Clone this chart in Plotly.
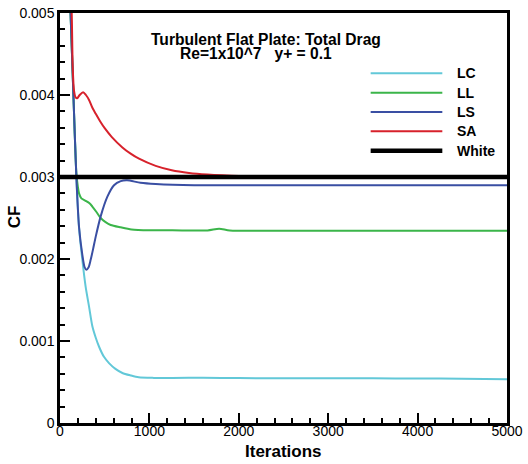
import plotly.graph_objects as go

# Convergence history of skin-friction coefficient (total drag) per model
lc_iter = [80, 118, 150, 183, 213, 250, 287, 325, 362, 400, 437, 490, 548, 620, 698, 790, 880,
           1050, 1257, 1600, 2000, 2500, 3000, 3500, 4000, 4500, 5000]
lc_cf = [0.0060, 0.0050, 0.0040, 0.0030, 0.00238, 0.00199, 0.00166, 0.00142, 0.00118, 0.00104,
         0.00093, 0.00081, 0.00073, 0.00066, 0.00061, 0.00058, 0.000557,
         0.000550, 0.000550, 0.000552, 0.000548, 0.000546, 0.000545, 0.000545, 0.000543, 0.000540, 0.000535]

ll_iter = [80, 118, 150, 183, 200, 213, 239, 287, 330, 362, 410, 455, 510, 567, 679, 800, 1000,
           1257, 1650, 1780, 1900, 2500, 3000, 4000, 5000]
ll_cf = [0.0060, 0.0050, 0.0040, 0.00305, 0.00288, 0.00280, 0.00274, 0.00271, 0.00268, 0.00264,
         0.00257, 0.00250, 0.00245, 0.002415, 0.002386, 0.00236, 0.00235,
         0.00235, 0.002348, 0.00237, 0.002348, 0.002345, 0.002345, 0.002345, 0.002345]

ls_iter = [80, 118, 150, 183, 213, 250, 275, 295, 320, 343, 370, 399, 455, 530, 604, 679, 750,
           900, 1070, 1500, 2189, 3000, 4000, 5000]
ls_cf = [0.0060, 0.0050, 0.0040, 0.0030, 0.00239, 0.00205, 0.00190, 0.00187, 0.00190, 0.00199,
         0.00212, 0.00227, 0.00252, 0.00276, 0.00290, 0.00295, 0.00296,
         0.00293, 0.002915, 0.00290, 0.00290, 0.00290, 0.00290, 0.00290]

sa_iter = [100, 131, 142, 157, 175, 192, 220, 258, 290, 325, 360, 400, 450, 500, 580, 698, 790,
           884, 1070, 1250, 1443, 1650, 1816, 2000, 2500, 3000, 4000, 5000]
sa_cf = [0.0058, 0.0050, 0.00435, 0.00405, 0.00397, 0.00396, 0.00400, 0.004035, 0.00400, 0.00394,
         0.00385, 0.00377, 0.003677, 0.003595, 0.003487, 0.003361, 0.003285,
         0.003223, 0.003135, 0.003082, 0.00305, 0.00303, 0.00302, 0.003013, 0.003005, 0.003002,
         0.00300, 0.00300]

white_iter = [0, 5000]
white_cf = [0.003, 0.003]

names = ["LC", "LL", "LS", "SA", "White"]
colors = ["#62c8d8", "#3bb54a", "#3a4fa3", "#d7212b", "#000000"]
widths = [2, 2, 2, 2, 4.5]

x_ticks = [0, 1000, 2000, 3000, 4000, 5000]
x_labels = ["0", "1000", "2000", "3000", "4000", "5000"]
y_ticks = [0, 0.001, 0.002, 0.003, 0.004, 0.005]
y_labels = ["0", "0.001", "0.002", "0.003", "0.004", "0.005"]

FONT = "Liberation Sans, Arial, Helvetica, sans-serif"

fig = go.Figure()
series = [(lc_iter, lc_cf), (ll_iter, ll_cf), (ls_iter, ls_cf), (sa_iter, sa_cf), (white_iter, white_cf)]
for (xs, ys), name, col, w in zip(series, names, colors, widths):
    fig.add_trace(go.Scatter(
        x=xs, y=ys, mode="lines", name=name,
        line=dict(color=col, width=w, shape="spline" if name != "White" else "linear", smoothing=0.7),
        showlegend=False,
    ))

axis_common = dict(
    showgrid=False, zeroline=False, showline=True, linecolor="black", linewidth=2.5,
    mirror=True, ticks="inside", ticklen=10, tickwidth=2, tickcolor="black",
    tickfont=dict(family=FONT, size=14, color="black"), automargin=False,
)
fig.update_xaxes(range=[0, 5000], tickvals=x_ticks, ticktext=x_labels, ticklabelstandoff=-7,
                 minor=dict(dtick=200, ticks="inside", ticklen=5, tickwidth=1.5, tickcolor="black"),
                 **axis_common)
fig.update_yaxes(range=[0, 0.005], tickvals=y_ticks, ticktext=y_labels,
                 minor=dict(dtick=0.0002, ticks="inside", ticklen=5, tickwidth=1.5, tickcolor="black"),
                 **axis_common)

annotations = [
    dict(text="<b>Turbulent Flat Plate: Total Drag</b>", x=0.4609, y=0.935, font=dict(size=15.6)),
    dict(text="<b>Re=1x10^7\u00a0\u00a0 y+ = 0.1</b>", x=0.4385, y=0.9015, font=dict(size=15.6)),
    dict(text="<b>Iterations</b>", x=0.4989, y=-0.07, font=dict(size=17)),
    dict(text="<b>CF</b>", x=-0.1029, y=0.502, textangle=-90, font=dict(size=17)),
]
shapes = []
key_y = [0.853, 0.8056, 0.7585, 0.7115, 0.6641]
for name, col, w, ky in zip(names, colors, widths, key_y):
    shapes.append(dict(type="line", xref="paper", yref="paper", x0=0.695, x1=0.8553, y0=ky, y1=ky,
                       line=dict(color=col, width=w)))
    annotations.append(dict(text=f"<b>{name}</b>", x=0.8837, y=ky, xanchor="left",
                            font=dict(size=14)))

for a in annotations:
    a.setdefault("xanchor", "center")
    a.update(xref="paper", yref="paper", showarrow=False, yanchor="middle")
    a["font"] = dict(family=FONT, color="black", **a["font"])

fig.update_layout(
    width=528, height=464,
    margin=dict(l=60, r=21, t=13, b=41, autoexpand=False),
    paper_bgcolor="white", plot_bgcolor="white",
    annotations=annotations, shapes=shapes,
)

fig.write_html("out.html")
